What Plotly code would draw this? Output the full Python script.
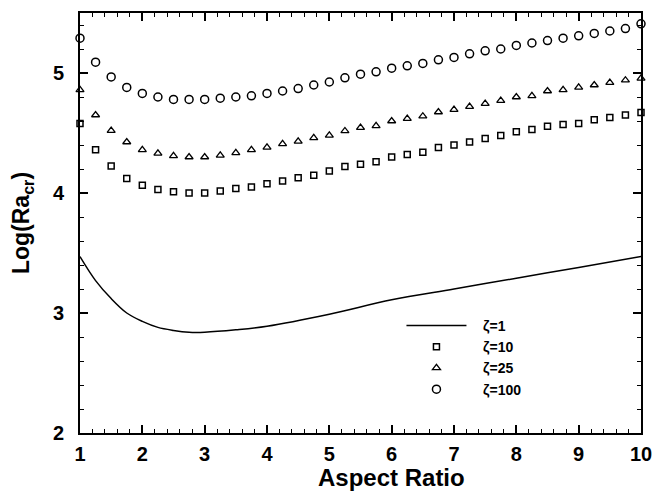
import plotly.graph_objects as go

# Aspect ratio grid for markers
aspect = [1 + 0.25 * i for i in range(37)]

# zeta = 10 (squares)
zeta10 = [4.58, 4.36, 4.225, 4.12, 4.064, 4.03, 4.01, 4.00, 4.00, 4.017, 4.037, 4.05,
          4.078, 4.10, 4.128, 4.148, 4.183, 4.22, 4.24, 4.26, 4.30, 4.32, 4.34, 4.38,
          4.40, 4.425, 4.455, 4.48, 4.51, 4.53, 4.556, 4.57, 4.58, 4.61, 4.63, 4.65, 4.67]

# zeta = 25 (triangles)
zeta25 = [4.86, 4.65, 4.52, 4.425, 4.36, 4.33, 4.31, 4.30, 4.30, 4.314, 4.335, 4.36,
          4.38, 4.41, 4.43, 4.46, 4.48, 4.517, 4.545, 4.56, 4.60, 4.62, 4.64, 4.675,
          4.695, 4.72, 4.745, 4.77, 4.80, 4.81, 4.85, 4.86, 4.88, 4.90, 4.92, 4.94, 4.955]

# zeta = 100 (circles)
zeta100 = [5.29, 5.09, 4.967, 4.88, 4.83, 4.80, 4.78, 4.78, 4.78, 4.79, 4.80, 4.81,
           4.83, 4.85, 4.87, 4.90, 4.925, 4.96, 4.99, 5.01, 5.04, 5.06, 5.08, 5.11,
           5.13, 5.16, 5.185, 5.20, 5.23, 5.25, 5.27, 5.29, 5.31, 5.33, 5.35, 5.37, 5.41]

# zeta = 1 (solid line)
line_x = [1, 1.25, 1.5, 1.75, 2, 2.25, 2.5, 2.75, 3, 3.5, 4, 5, 6, 7, 8, 9, 10]
zeta1 = [3.47, 3.27, 3.12, 3.00, 2.93, 2.88, 2.855, 2.84, 2.84, 2.86, 2.89, 2.99,
         3.11, 3.20, 3.29, 3.38, 3.47]

series_names = ["ζ=1", "ζ=10", "ζ=25", "ζ=100"]

FONT = "Liberation Sans"
NB = "\u00a0\u00a0\u00a0"

fig = go.Figure()
fig.add_trace(go.Scatter(x=line_x, y=zeta1, mode="lines", name=NB + "<b>" + series_names[0] + "</b>",
                         line=dict(color="black", width=1.5, shape="spline"),
                         cliponaxis=False))
fig.add_trace(go.Scatter(x=aspect, y=zeta10, mode="markers", name=NB + "<b>" + series_names[1] + "</b>",
                         marker=dict(symbol="square-open", size=6, color="black",
                                     line=dict(width=1.5, color="black")),
                         cliponaxis=False))
fig.add_trace(go.Scatter(x=aspect, y=zeta25, mode="markers", name=NB + "<b>" + series_names[2] + "</b>",
                         marker=dict(symbol="triangle-up-open", size=7, color="black",
                                     line=dict(width=1.3, color="black")),
                         cliponaxis=False))
fig.add_trace(go.Scatter(x=aspect, y=zeta100, mode="markers", name=NB + "<b>" + series_names[3] + "</b>",
                         marker=dict(symbol="circle-open", size=8, color="black",
                                     line=dict(width=1.5, color="black")),
                         cliponaxis=False))

axis_common = dict(
    showgrid=False, zeroline=False, showline=True, linecolor="black", linewidth=2,
    mirror="ticks", ticks="inside", ticklen=8, tickwidth=1.5, tickcolor="black",
    tickfont=dict(family=FONT, size=20, color="black", weight="bold"),
    tickmode="linear", dtick=1, automargin=False,
)

fig.update_xaxes(range=[1, 10], tick0=1, ticklabelstandoff=2,
                 minor=dict(ticks="inside", ticklen=4, tickwidth=1, tickcolor="black",
                            tickmode="linear", tick0=1, dtick=0.2),
                 **axis_common)
fig.update_yaxes(range=[2, 5.5], tick0=2, ticklabelstandoff=10,
                 minor=dict(ticks="inside", ticklen=4, tickwidth=1, tickcolor="black",
                            tickmode="linear", tick0=2, dtick=0.2),
                 title=dict(text="<b>Log(Ra<sub>cr</sub>)</b>", standoff=20,
                            font=dict(family=FONT, size=23, color="black")),
                 **axis_common)

fig.add_annotation(text="<b>Aspect Ratio</b>", x=6, xref="x", y=0, yref="paper",
                   xanchor="center", yanchor="top", yshift=-29, showarrow=False,
                   font=dict(family=FONT, size=24, color="black"))

fig.update_layout(
    width=652, height=484,
    margin=dict(l=72, r=19, t=5, b=59),
    paper_bgcolor="white", plot_bgcolor="white",
    showlegend=True,
    legend=dict(x=0.573, y=0.293, xanchor="left", yanchor="top",
                bgcolor="rgba(0,0,0,0)", borderwidth=0,
                font=dict(family=FONT, size=14, color="black"),
                itemwidth=60, tracegroupgap=0),
)

fig.write_html("out.html")
